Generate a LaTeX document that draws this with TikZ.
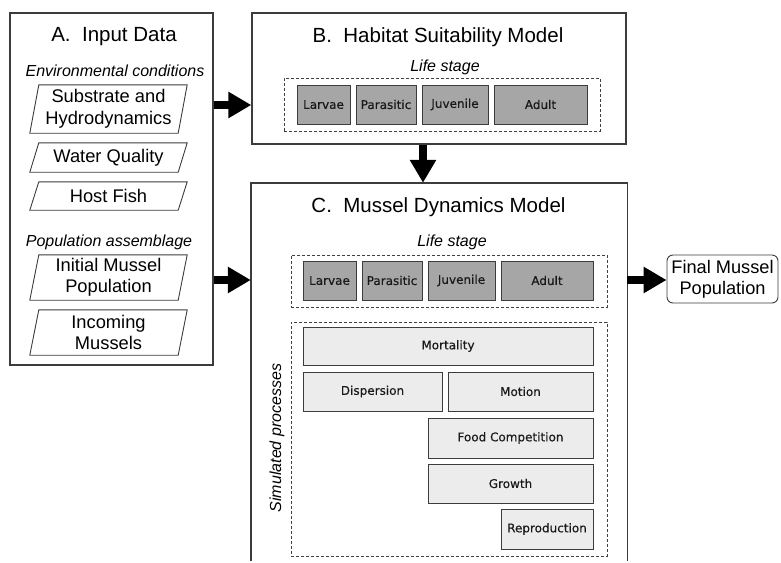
\documentclass[tikz,border=0pt]{standalone}
\usepackage{fontspec}
\setmainfont{Liberation Sans}
\newfontfamily\lblfont[FakeBold=0.3]{DejaVu Sans}
\usetikzlibrary{arrows.meta}
\definecolor{stagegray}{RGB}{166,166,166}
\definecolor{procgray}{RGB}{236,236,236}
\definecolor{edgegray}{RGB}{60,60,60}
\newcommand\drawpara[1]{\draw[parabd] ([xshift=4.5pt]#1.north west) -- ([xshift=4.5pt]#1.north east) -- ([xshift=-4.5pt]#1.south east) -- ([xshift=-4.5pt]#1.south west) -- cycle;}
\begin{document}
\begin{tikzpicture}[x=1pt,y=-1pt,
  bigbox/.style={draw=edgegray, line width=1.4pt, inner sep=0pt},
  titletext/.style={font=\fontsize{20.5}{24}\selectfont, inner sep=0pt},
  itext/.style={font=\fontsize{16}{19}\selectfont\itshape, inner sep=0pt},
  paratext/.style={font=\fontsize{18.3}{21.5}\selectfont, align=center, inner sep=0pt, minimum width=148pt},
  parabd/.style={draw=edgegray, line width=0.9pt},
  dashbox/.style={draw=black!75, line width=0.9pt, dash pattern=on 3pt off 2pt, inner sep=0pt},
  stagebox/.style={draw=edgegray, line width=0.9pt, fill=stagegray, inner sep=0pt, text=black!90, font=\lblfont\fontsize{12}{14}\selectfont},
  procbox/.style={draw=edgegray, line width=0.9pt, fill=procgray, inner sep=0pt, text=black!90, font=\lblfont\fontsize{12}{14}\selectfont},
  bigarrow/.style={line width=8pt, -{Triangle[length=23pt,width=25pt]}},
]
\useasboundingbox[fill=white] (0,0) rectangle (781,562);

% ---------- Box A ----------
\node[bigbox, minimum width=203pt, minimum height=352pt] (A) at (111.5,189) {};
\node[titletext] (Atitle) at (114,37) {A.\ \ Input Data};
\node[itext] (env) at (115,71) {Environmental conditions};
\node[paratext, minimum height=48pt] (p1) at (108.5,109) {Substrate and\\Hydrodynamics};
\drawpara{p1}
\node[paratext, minimum height=29pt] (p2) at (108.5,157.5) {Water Quality};
\drawpara{p2}
\node[paratext, minimum height=28pt] (p3) at (108.5,196) {Host Fish};
\drawpara{p3}
\node[itext] (pop) at (109,242) {Population assemblage};
\node[paratext, minimum height=45pt] (p4) at (108.5,277.5) {Initial Mussel\\Population};
\drawpara{p4}
\node[paratext, minimum height=45pt] (p5) at (108.5,332.5) {Incoming\\Mussels};
\drawpara{p5}

% ---------- Box B ----------
\node[bigbox, minimum width=374pt, minimum height=131pt] (B) at (439,78.5) {};
\node[titletext] (Btitle) at (438,37) {B.\ \ Habitat Suitability Model};
\node[itext] (Blife) at (445,67) {Life stage};
\node[dashbox, minimum width=316pt, minimum height=53pt] (Bdash) at (442,104.5) {};
\node[stagebox, minimum width=53pt, minimum height=39pt] (bL) at (323.5,104.5) {Larvae};
\node[stagebox, minimum width=60pt, minimum height=39pt] (bP) at (386,104.5) {Parasitic};
\node[stagebox, minimum width=66pt, minimum height=39pt] (bJ) at (455,104.5) {Juvenile};
\node[stagebox, minimum width=93pt, minimum height=39pt] (bA) at (540.5,104.5) {Adult};

% ---------- Box C ----------
\node[inner sep=0pt, minimum width=376pt, minimum height=378pt] (C) at (439,372) {};
\draw[draw=edgegray, line width=1.4pt] (C.south west) -- (C.north west) -- (C.north east) -- (C.south east);
\node[titletext] (Ctitle) at (438.5,207) {C.\ \ Mussel Dynamics Model};
\node[itext] (Clife) at (452,242) {Life stage};
\node[dashbox, minimum width=316pt, minimum height=52pt] (Cdash) at (449,281) {};
\node[stagebox, minimum width=53pt, minimum height=39pt] (cL) at (329.5,280.5) {Larvae};
\node[stagebox, minimum width=60pt, minimum height=39pt] (cP) at (392,280.5) {Parasitic};
\node[stagebox, minimum width=67pt, minimum height=39pt] (cJ) at (461.5,280.5) {Juvenile};
\node[stagebox, minimum width=92pt, minimum height=39pt] (cA) at (547,280.5) {Adult};

\node[dashbox, minimum width=316pt, minimum height=234pt] (Sdash) at (449,439) {};
\node[itext, rotate=90] (sim) at (277,438) {Simulated processes};
\node[procbox, minimum width=290pt, minimum height=38pt] (mort) at (448,346) {Mortality};
\node[procbox, minimum width=139pt, minimum height=39pt] (disp) at (372.5,391.5) {Dispersion};
\node[procbox, minimum width=145pt, minimum height=39pt] (mot) at (520.5,391.5) {Motion};
\node[procbox, minimum width=165pt, minimum height=40pt] (food) at (510.5,438) {Food Competition};
\node[procbox, minimum width=165pt, minimum height=39pt] (grow) at (510.5,483.5) {Growth};
\node[procbox, minimum width=92pt, minimum height=40pt] (repr) at (547,529) {Reproduction};

% ---------- Final ----------
\node[draw=edgegray, line width=0.9pt, rounded corners=6pt, minimum width=111pt, minimum height=48pt, inner sep=0pt,
  font=\fontsize{18.2}{21}\selectfont, align=center] (F) at (722.5,279) {Final Mussel\\Population};

% ---------- Arrows ----------
\coordinate (ab) at (0,105);
\coordinate (ac) at (0,280);
\coordinate (bc) at (423,0);
\draw[bigarrow] (A.east |- ab) -- (B.west |- ab);
\draw[bigarrow] (A.east |- ac) -- (C.west |- ac);
\draw[bigarrow] (B.south -| bc) -- (C.north -| bc);
\draw[bigarrow] (C.east |- ac) -- (F.west |- ac);
\end{tikzpicture}
\end{document}
